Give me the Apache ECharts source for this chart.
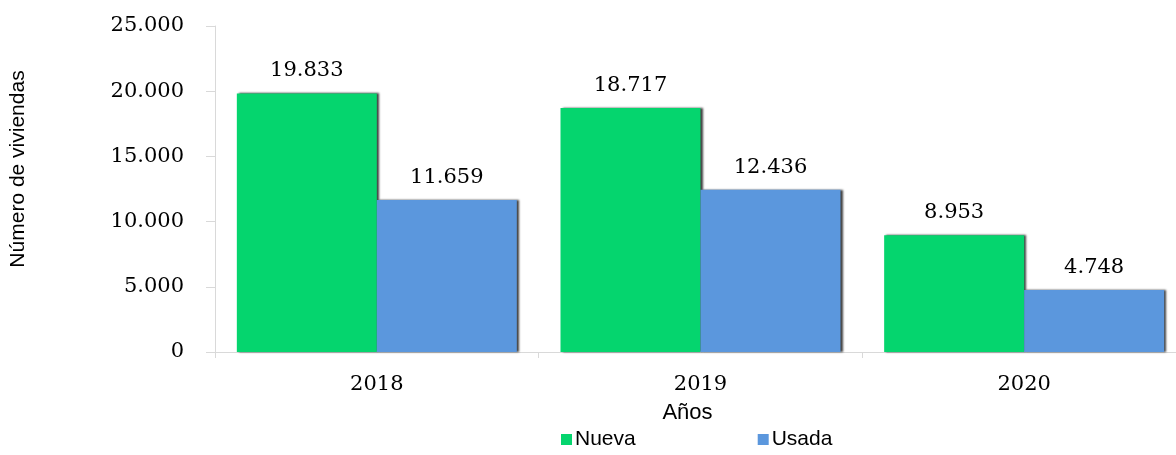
<!DOCTYPE html>
<html>
<head>
<meta charset="utf-8">
<script src="https://cdn.jsdelivr.net/npm/echarts@6/dist/echarts.min.js"></script>
<style>
  html, body { margin: 0; padding: 0; background: #fff; overflow: hidden; }
  /* the original plot runs a little past the right edge, so the chart is wider than the window */
  #chart { width: 1186px; height: 455px; }
</style>
</head>
<body>
<div id="chart"></div>
<script>
// datos
var years = ['2018', '2019', '2020']
var nueva = [19833, 18717, 8953]
var usada = [11659, 12436, 4748]
var yTicks = [0, 5000, 10000, 15000, 20000, 25000]

var serifFont = 'DejaVu Serif'
var sansFont = '"Liberation Sans Narrow", "Liberation Sans", sans-serif'

function miles(v) {
  // 19833 -> 19.833
  return String(v).replace(/\B(?=(\d{3})+(?!\d))/g, '.')
}

var chart = echarts.init(document.getElementById('chart'))

var barShadow = {
  shadowColor: 'rgba(0,0,0,0.75)',
  shadowBlur: 2,
  shadowOffsetX: 2,
  shadowOffsetY: 0
}

var options = {
  animation: false,
  grid: {
    left: 210,
    right: 0,
    top: 26,
    bottom: 103
  },
  legend: {
    bottom: 0,
    left: 556,
    itemGap: 122,
    itemWidth: 11,
    itemHeight: 11,
    icon: 'rect',
    textStyle: {
      fontFamily: sansFont,
      fontSize: 21,
      color: '#000',
      padding: [0, 0, 0, -2]
    },
    data: ['Nueva', 'Usada']
  },
  xAxis: {
    type: 'category',
    data: years,
    name: 'Años',
    nameLocation: 'middle',
    nameGap: 50,
    nameTextStyle: {
      fontFamily: sansFont,
      fontSize: 22,
      color: '#000',
      padding: [0, 26, 0, 0]
    },
    axisLine: { lineStyle: { color: '#d9d9d9', width: 1 } },
    axisTick: { show: true, length: 6, lineStyle: { color: '#d9d9d9' } },
    axisLabel: {
      fontFamily: serifFont,
      fontSize: 21,
      color: '#000',
      margin: 22
    },
    splitLine: { show: false }
  },
  yAxis: {
    type: 'value',
    min: yTicks[0],
    max: yTicks[yTicks.length - 1],
    interval: yTicks[1] - yTicks[0],
    name: 'Número de viviendas',
    nameLocation: 'middle',
    nameGap: 186,
    nameRotate: 90,
    nameTextStyle: {
      fontFamily: sansFont,
      fontSize: 21,
      color: '#000',
      padding: [0, 0, 0, 40]
    },
    axisLine: { show: true, lineStyle: { color: '#d9d9d9', width: 1 } },
    axisTick: { show: true, length: 9, lineStyle: { color: '#d9d9d9' } },
    axisLabel: {
      fontFamily: serifFont,
      fontSize: 21,
      color: '#000',
      margin: 31,
      formatter: miles
    },
    splitLine: { show: false }
  },
  series: [
    {
      name: 'Nueva',
      type: 'bar',
      data: nueva,
      barWidth: 140,
      barGap: '0%',
      itemStyle: Object.assign({ color: '#05d56e' }, barShadow),
      label: {
        show: true,
        position: 'top',
        distance: 12,
        fontFamily: serifFont,
        fontSize: 21,
        color: '#000',
        formatter: function (p) { return miles(p.value) }
      }
    },
    {
      name: 'Usada',
      type: 'bar',
      data: usada,
      barWidth: 140,
      barGap: '0%',
      itemStyle: Object.assign({ color: '#5b97dd' }, barShadow),
      label: {
        show: true,
        position: 'top',
        distance: 12,
        fontFamily: serifFont,
        fontSize: 21,
        color: '#000',
        formatter: function (p) { return miles(p.value) }
      }
    }
  ]
}

chart.setOption(options)
</script>
</body>
</html>
